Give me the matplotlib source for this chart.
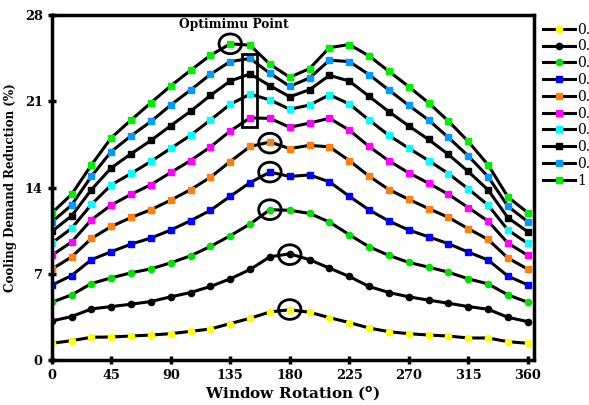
import matplotlib.pyplot as plt
from matplotlib.patches import Ellipse, Rectangle

# Ángulos de rotación de la ventana
angles = list(range(0, 361, 15))

s01 = [1.36, 1.57, 1.85, 1.87, 1.95, 2.03, 2.14, 2.33, 2.52, 2.96, 3.39, 3.90, 4.08,
       3.88, 3.44, 3.04, 2.60, 2.30, 2.14, 2.03, 1.95, 1.79, 1.79, 1.49, 1.36]
s02 = [3.17, 3.53, 4.15, 4.34, 4.53, 4.75, 5.13, 5.48, 5.97, 6.59, 7.35, 8.38, 8.62,
       8.14, 7.46, 6.78, 5.97, 5.48, 5.13, 4.86, 4.61, 4.34, 4.12, 3.47, 3.12]
s03 = [4.69, 5.29, 6.21, 6.67, 7.08, 7.40, 7.89, 8.46, 9.22, 10.09, 11.04, 12.20, 12.15,
       11.90, 11.20, 10.17, 9.19, 8.49, 7.92, 7.54, 7.13, 6.59, 6.18, 5.29, 4.69]
s04 = [6.08, 6.86, 8.15, 8.79, 9.41, 9.90, 10.55, 11.31, 12.15, 13.29, 14.40, 15.25, 14.90,
       15.02, 14.46, 13.29, 12.18, 11.28, 10.55, 10.00, 9.44, 8.76, 8.12, 6.81, 6.10]
s05 = [7.38, 8.37, 9.87, 10.84, 11.57, 12.20, 12.98, 13.83, 14.83, 16.11, 17.33, 17.69, 17.16,
       17.42, 17.30, 16.19, 14.92, 13.83, 13.04, 12.29, 11.58, 10.66, 9.79, 8.28, 7.38]
s06 = [8.50, 9.58, 11.39, 12.58, 13.45, 14.23, 15.22, 16.19, 17.29, 18.59, 19.65, 19.61, 18.89,
       19.23, 19.62, 18.66, 17.33, 16.16, 15.19, 14.35, 13.45, 12.37, 11.28, 9.49, 8.50]
s07 = [9.49, 10.69, 12.64, 14.21, 15.14, 16.12, 17.18, 18.24, 19.48, 20.76, 21.57, 21.11, 20.35,
       20.69, 21.52, 20.78, 19.48, 18.23, 17.19, 16.19, 15.13, 13.89, 12.58, 10.55, 9.47]
s08 = [10.44, 11.70, 13.83, 15.60, 16.74, 17.82, 19.02, 20.19, 21.48, 22.64, 23.22, 22.26, 21.36,
       21.94, 23.10, 22.64, 21.40, 20.15, 19.00, 17.90, 16.68, 15.30, 13.81, 11.55, 10.41]
s09 = [11.20, 12.58, 14.92, 16.92, 18.20, 19.36, 20.70, 21.91, 23.19, 24.22, 24.47, 23.27, 22.21,
       22.89, 24.33, 24.22, 23.16, 21.91, 20.67, 19.48, 18.06, 16.57, 14.89, 12.48, 11.23]
s10 = [11.93, 13.45, 15.84, 18.04, 19.48, 20.88, 22.25, 23.51, 24.73, 25.66, 25.55, 24.00, 22.95,
       23.65, 25.35, 25.60, 24.68, 23.43, 22.19, 20.88, 19.39, 17.74, 15.84, 13.24, 11.96]

series = [s01, s02, s03, s04, s05, s06, s07, s08, s09, s10]
labels = ["0.1", "0.2", "0.3", "0.4", "0.5", "0.6", "0.7", "0.8", "0.9", "1"]
colors = ["#FFFF00", "#000000", "#00E000", "#0000FF", "#FF7F0E",
          "#FF00FF", "#00FFFF", "#000000", "#0099FF", "#00EE00"]
markers = ["o", "o", "o", "s", "s", "s", "s", "s", "s", "s"]

# Puntos óptimos marcados con círculos (ángulo, valor)
opt_x = [135, 165, 165, 165, 180, 180]
opt_y = [25.66, 17.6, 15.25, 12.2, 8.55, 4.1]

plt.rcParams['font.family'] = 'DejaVu Serif'
plt.rcParams['font.weight'] = 'bold'

fig = plt.figure(figsize=(5.89, 4.05), dpi=100)
ax = fig.add_axes([0.088, 0.111, 0.818, 0.852])

for s, lab, c, m in zip(series, labels, colors, markers):
    ax.plot(angles, s, color="black", lw=2.2, marker=m, markersize=4.5,
            markerfacecolor=c, markeredgecolor=c, label=lab)

for x, y in zip(opt_x, opt_y):
    ax.add_patch(Ellipse((x, y), 17, 1.6, fill=False, ec="black", lw=2, zorder=5))

ax.add_patch(Rectangle((143.5, 18.93), 11.8, 5.94, fill=False, ec="black", lw=2, zorder=5))
ax.text(137.5, 27.2, "Optimimu Point", ha="center", va="center", fontsize=8.8, fontweight="bold")

ax.set_xlim(0, 364.5)
ax.set_ylim(0, 28)
ax.set_xticks(range(0, 361, 45))
ax.set_yticks([0, 7, 14, 21, 28])
ax.tick_params(direction="inout", length=6, width=2.5, labelsize=9.3)
for sp in ax.spines.values():
    sp.set_linewidth(2.5)

ax.set_xlabel("Window Rotation ($^{\\mathbf{o}}$)", fontsize=11, fontweight="bold", labelpad=2)
ax.set_ylabel("Cooling Demand Reduction (%)", fontsize=8.6, fontweight="bold", labelpad=6)

fig.legend(loc="upper left", bbox_to_anchor=(0.922, 0.944), frameon=False,
           borderpad=0, borderaxespad=0, handlelength=2.3, handletextpad=0.15,
           labelspacing=0.2, prop={"weight": "normal", "size": 10})

fig.savefig("out.png", dpi=100)
